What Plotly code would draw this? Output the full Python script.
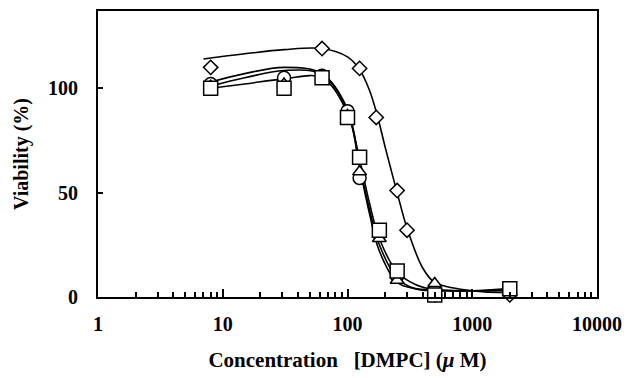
import plotly.graph_objects as go

# Measured points (concentration in µM, viability %)
dia_x = [8, 62.5, 125, 170, 250, 300, 500, 2000]
dia_y = [110, 119, 109.5, 86, 51, 32, 1, 1]
cir_x = [8, 31, 62.5, 100, 125, 180, 250, 500, 2000]
cir_y = [102, 105, 106, 89, 57, 30, 10, 3, 4]
tri_x = [8, 31, 62.5, 100, 125, 180, 250, 500, 2000]
tri_y = [101, 102, 106, 87, 60, 28, 8, 6.5, 3]
sq_x = [8, 31, 62.5, 100, 125, 180, 250, 500, 2000]
sq_y = [100, 100, 105, 86, 67, 32, 12.5, 1, 4]

# Fitted curves
fit_dia_x = [7, 15, 31, 62.5, 100, 125, 150, 175, 200, 250, 300, 400, 500, 1000, 2000]
fit_dia_y = [114, 116.5, 118.5, 119, 115, 109, 99, 86, 72, 50, 33, 14, 7, 3, 2]
fit_x = [8, 15, 31, 62.5, 100, 125, 150, 180, 250, 350, 500, 1000, 2000]
fit_cir_y = [103, 107, 110, 107, 90, 63, 42, 25, 9, 4, 3, 3, 3.5]
fit_tri_y = [101, 105, 108.5, 106.5, 89, 62, 40, 22, 7, 4, 3.5, 3, 3]
fit_sq_y = [100, 102, 104.5, 105, 88, 66, 45, 28, 12, 6, 3.5, 3, 4]

x_ticks = [1, 10, 100, 1000, 10000]
x_labels = ["1", "10", "100", "1000", "10000"]
y_ticks = [0, 50, 100]

fig = go.Figure()
line = dict(color="black", width=1.6, shape="spline", smoothing=1.0)
for fx, fy in [(fit_dia_x, fit_dia_y), (fit_x, fit_cir_y), (fit_x, fit_tri_y), (fit_x, fit_sq_y)]:
    fig.add_trace(go.Scatter(x=fx, y=fy, mode="lines", line=line, hoverinfo="skip"))

mk = lambda sym, size: dict(symbol=sym, size=size, color="white", line=dict(color="black", width=1.5))
fig.add_trace(go.Scatter(x=dia_x, y=dia_y, mode="markers", marker=mk("diamond", 11), cliponaxis=False))
fig.add_trace(go.Scatter(x=cir_x, y=cir_y, mode="markers", marker=mk("circle", 13), cliponaxis=False))
fig.add_trace(go.Scatter(x=tri_x, y=tri_y, mode="markers", marker=mk("triangle-up", 12), cliponaxis=False))
fig.add_trace(go.Scatter(x=sq_x, y=sq_y, mode="markers", marker=mk("square", 14), cliponaxis=False))

font = dict(family="Liberation Serif", size=20, color="black")
fig.update_layout(
    width=636, height=378,
    margin=dict(l=98, r=39, t=9, b=81),
    paper_bgcolor="white", plot_bgcolor="white",
    showlegend=False,
    font=font,
    xaxis=dict(
        type="log", range=[0, 4],
        tickvals=x_ticks, ticktext=[f"<b>{t}</b>" for t in x_labels],
        ticks="inside", ticklen=8, tickwidth=1.5, tickcolor="black",
        minor=dict(ticks="inside", ticklen=5, tickwidth=1.5, tickcolor="black", dtick="D1", showgrid=False),
        showline=True, linecolor="black", linewidth=2, mirror=True,
        showgrid=False, zeroline=False,
        ticklabelstandoff=8,
        title=dict(text="<b>Concentration\u00a0\u00a0\u00a0[DMPC] (<i>\u03bc</i>\u00a0M)</b>", font=dict(size=21), standoff=18),
    ),
    yaxis=dict(
        range=[0, 137],
        tickvals=y_ticks, ticktext=[f"<b>{t}</b>" for t in y_ticks],
        ticks="inside", ticklen=5, tickwidth=1.5, tickcolor="black",
        showline=True, linecolor="black", linewidth=2, mirror=True,
        showgrid=False, zeroline=False,
        ticklabelstandoff=14,
        title=dict(text="<b>Viability (%)</b>", font=dict(size=20), standoff=14),
    ),
)
fig.write_html("out.html")
